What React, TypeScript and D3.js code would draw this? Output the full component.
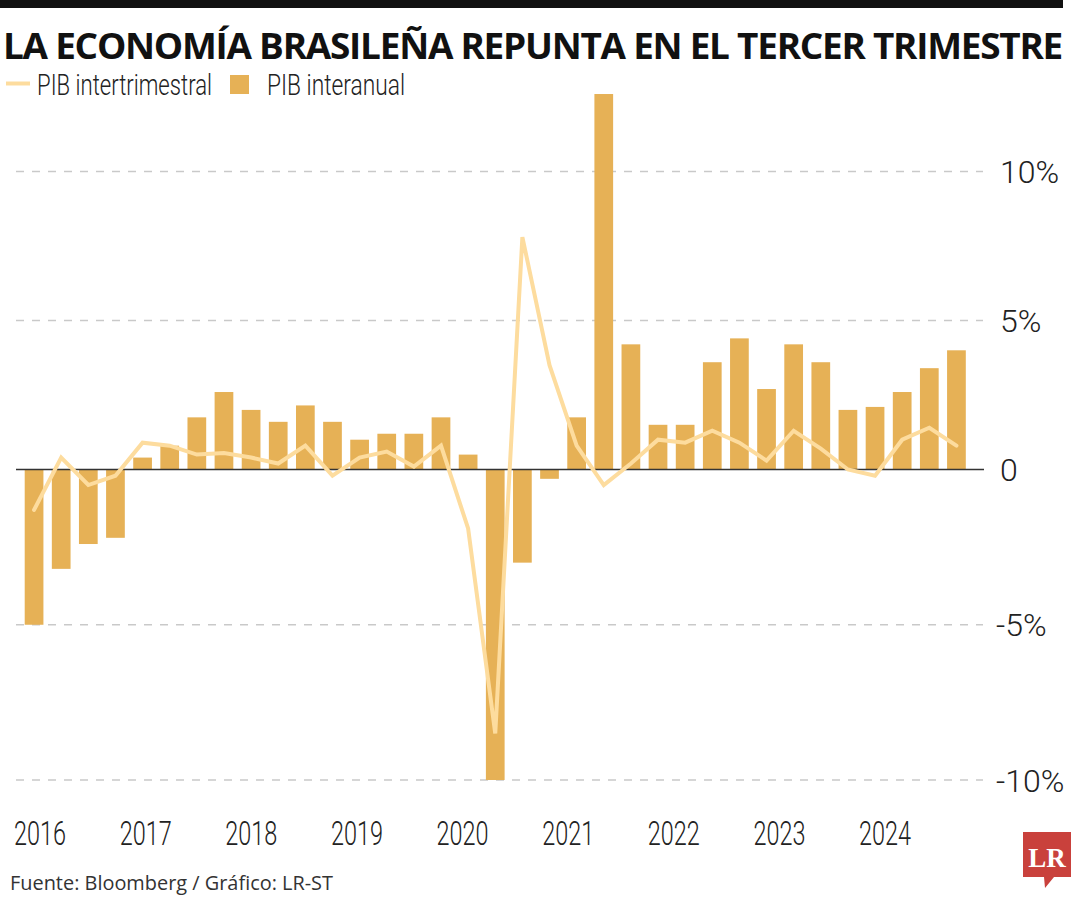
import React from "react";
import * as d3 from "d3";

const quarters: string[] = [
  "2016T1","2016T2","2016T3","2016T4",
  "2017T1","2017T2","2017T3","2017T4",
  "2018T1","2018T2","2018T3","2018T4",
  "2019T1","2019T2","2019T3","2019T4",
  "2020T1","2020T2","2020T3","2020T4",
  "2021T1","2021T2","2021T3","2021T4",
  "2022T1","2022T2","2022T3","2022T4",
  "2023T1","2023T2","2023T3","2023T4",
  "2024T1","2024T2","2024T3",
];

// PIB interanual (bars)
const interanual: number[] = [
  -5.0, -3.2, -2.4, -2.2,
  0.4, 0.8, 1.75, 2.6,
  2.0, 1.6, 2.15, 1.6,
  1.0, 1.2, 1.2, 1.75,
  0.5, -10.0, -3.0, -0.3,
  1.75, 12.6, 4.2, 1.5,
  1.5, 3.6, 4.4, 2.7,
  4.2, 3.6, 2.0, 2.1,
  2.6, 3.4, 4.0,
];

// PIB intertrimestral (line)
const intertrimestral: number[] = [
  -1.3, 0.4, -0.5, -0.2,
  0.9, 0.8, 0.5, 0.55,
  0.4, 0.2, 0.8, -0.2,
  0.4, 0.6, 0.1, 0.8,
  -1.9, -8.5, 7.8, 3.5,
  0.8, -0.5, 0.2, 1.0,
  0.9, 1.3, 0.9, 0.3,
  1.3, 0.7, 0.0, -0.2,
  1.0, 1.4, 0.8,
];

const years: string[] = ["2016","2017","2018","2019","2020","2021","2022","2023","2024"];
const yTicks: number[] = [10, 5, 0, -5, -10];
const yTickLabels: string[] = ["10%", "5%", "0", "-5%", "-10%"];

const TITLE = "LA ECONOMÍA BRASILEÑA REPUNTA EN EL TERCER TRIMESTRE";
const LEGEND_LINE = "PIB intertrimestral";
const LEGEND_BAR = "PIB interanual";
const SOURCE = "Fuente: Bloomberg / Gráfico: LR-ST";

const BAR_COLOR = "#e6b156";
const LINE_COLOR = "#fddc9e";
const CONDENSED = "'Liberation Sans Narrow', 'Roboto', 'Open Sans', sans-serif";

export default function App() {
  const W = 1080, H = 900;

  const x = d3.scaleBand<string>()
    .domain(quarters)
    .range([20.5, 970])
    .paddingInner(0.31)
    .paddingOuter(0.155);

  const y = d3.scaleLinear().domain([-10, 0, 10]).range([780, 469.5, 171.5]);

  const xYear = d3.scalePoint<string>().domain(years).range([40, 885]);

  const line = d3.line<number>()
    .x((_, i) => (x(quarters[i]) as number) + x.bandwidth() / 2)
    .y((d) => y(d));

  const gridX0 = 16, gridX1 = 983;

  return (
    <svg width={W} height={H} style={{ display: "block", position: "absolute", left: 0, top: 0 }}>
      <rect x={0} y={0} width={W} height={H} fill="#ffffff" />
      <rect x={0} y={0} width={1063} height={8} fill="#111111" />
      <text x={3} y={58.5} fontFamily="'Open Sans', 'DejaVu Sans', sans-serif" fontWeight={700}
        fontSize={35} letterSpacing={-1.2} fill="#111" textLength={1059}
        lengthAdjust="spacingAndGlyphs">{TITLE}</text>

      {/* legend */}
      <line x1={6} x2={30} y1={83.5} y2={83.5} stroke={LINE_COLOR} strokeWidth={4} />
      <text x={37} y={95} fontFamily={CONDENSED} fontWeight={300} fontSize={30} fill="#222"
        textLength={175} lengthAdjust="spacingAndGlyphs">{LEGEND_LINE}</text>
      <rect x={230} y={75} width={19} height={19} fill={BAR_COLOR} />
      <text x={267} y={95} fontFamily={CONDENSED} fontWeight={300} fontSize={30} fill="#222"
        textLength={138} lengthAdjust="spacingAndGlyphs">{LEGEND_BAR}</text>

      {/* gridlines */}
      {yTicks.filter((t) => t !== 0).map((t) => (
        <line key={t} x1={gridX0} x2={gridX1} y1={y(t)} y2={y(t)} stroke="#c9c9c9"
          strokeWidth={1.5} strokeDasharray="8 8" />
      ))}

      {/* bars */}
      {interanual.map((v, i) => (
        <rect key={quarters[i]} x={x(quarters[i])} width={x.bandwidth()}
          y={Math.min(y(v), y(0))} height={Math.abs(y(v) - y(0))} fill={BAR_COLOR} />
      ))}

      {/* zero line */}
      <line x1={gridX0} x2={gridX1 + 1} y1={y(0)} y2={y(0)} stroke="#333" strokeWidth={1.5} />

      {/* line */}
      <path d={line(intertrimestral) || ""} fill="none" stroke={LINE_COLOR} strokeWidth={4}
        strokeLinejoin="miter" strokeLinecap="round" />

      {/* y tick labels */}
      {yTicks.map((t, i) => (
        <text key={t} x={t < 0 ? 996 : 1000} y={y(t)} dy="0.36em" fontFamily={CONDENSED}
          fontWeight={300} fontSize={32} fill="#222">{yTickLabels[i]}</text>
      ))}

      {/* x year labels */}
      {years.map((yr) => (
        <text key={yr} x={xYear(yr)} y={845} textAnchor="middle" fontFamily={CONDENSED}
          fontWeight={300} fontSize={34} fill="#222" textLength={52} lengthAdjust="spacingAndGlyphs">{yr}</text>
      ))}

      {/* source */}
      <text x={10} y={890} fontFamily="'Open Sans', sans-serif" fontWeight={400} fontSize={20} fill="#333"
        textLength={323} lengthAdjust="spacingAndGlyphs">{SOURCE}</text>

      {/* LR logo */}
      <path d="M1023,832 H1071 V877 H1054 L1045,888 L1044,877 H1023 Z" fill="#c9413c" />
      <text x={1047} y={867} textAnchor="middle" fontFamily="'Liberation Serif', 'DejaVu Serif', serif"
        fontWeight={700} fontSize={27} fill="#fff">LR</text>
    </svg>
  );
}
